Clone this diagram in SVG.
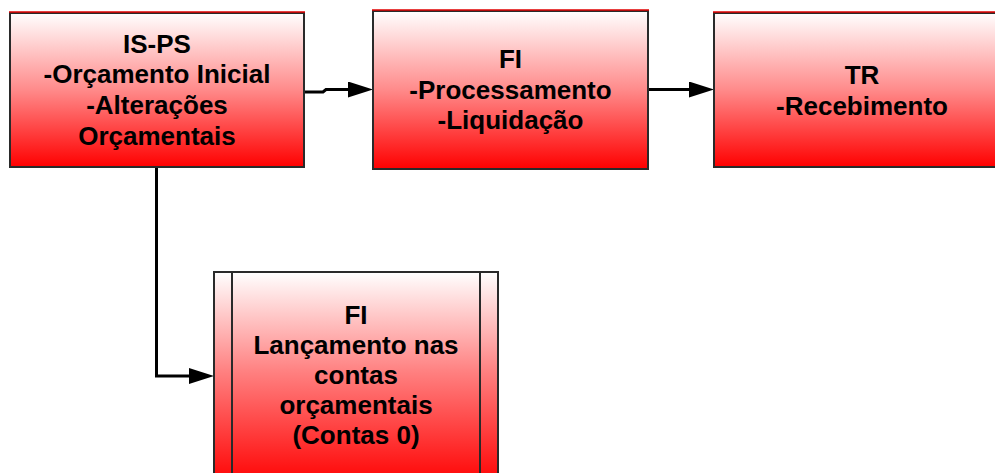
<svg xmlns="http://www.w3.org/2000/svg" width="995" height="473" viewBox="0 0 995 473">
  <defs>
    <linearGradient id="g" x1="0" y1="0" x2="0" y2="1">
      <stop offset="0" stop-color="#ffffff"/>
      <stop offset="0.5" stop-color="#ff8a8a"/>
      <stop offset="1" stop-color="#ff0000"/>
    </linearGradient>
    <linearGradient id="g4" gradientUnits="userSpaceOnUse" x1="0" y1="272" x2="0" y2="472">
      <stop offset="0" stop-color="#ffffff"/>
      <stop offset="0.5" stop-color="#ff8080"/>
      <stop offset="1" stop-color="#ff1010"/>
    </linearGradient>
    <marker id="arr" viewBox="0 0 25 16" refX="5" refY="8" markerWidth="25" markerHeight="16" markerUnits="userSpaceOnUse" orient="auto">
      <path d="M0,0 L25,8 L0,16 z" fill="#000"/>
    </marker>
  </defs>
  <style>
    .box { stroke: #2a2a2a; stroke-width: 2; }
    .topline { stroke: #e00000; stroke-width: 1.5; }
    .t { font-family: "Liberation Sans", Arial, sans-serif; font-weight: bold; font-size: 26px; fill: #000; text-anchor: middle; }
    .conn { fill: none; stroke: #000; stroke-width: 3; }
  </style>
  <rect width="995" height="473" fill="#ffffff"/>

  <g id="connectors">
    <path class="conn" d="M304,92 H323 L326,89.5 H353" marker-end="url(#arr)"/>
    <path class="conn" d="M648,89.5 H694" marker-end="url(#arr)"/>
    <path class="conn" d="M156.5,167 V376 H194" marker-end="url(#arr)"/>
  </g>

  <g id="node-isps">
    <rect class="box" x="10" y="13" width="294" height="154" fill="url(#g)"/>
    <line class="topline" x1="9" y1="12" x2="305" y2="12"/>
    <text class="t" x="157" y="53">IS-PS</text>
    <text class="t" x="157" y="83">-Orçamento Inicial</text>
    <text class="t" x="157" y="114">-Alterações</text>
    <text class="t" x="157" y="145">Orçamentais</text>
  </g>

  <g id="node-fi1">
    <rect class="box" x="373" y="11" width="275" height="158" fill="url(#g)"/>
    <line class="topline" x1="372" y1="10" x2="649" y2="10"/>
    <text class="t" x="510.5" y="68">FI</text>
    <text class="t" x="510.5" y="99">-Processamento</text>
    <text class="t" x="510.5" y="129">-Liquidação</text>
  </g>

  <g id="node-tr">
    <rect class="box" x="714" y="13" width="300" height="154" fill="url(#g)"/>
    <line class="topline" x1="713" y1="12" x2="995" y2="12"/>
    <text class="t" x="862" y="84">TR</text>
    <text class="t" x="862" y="115">-Recebimento</text>
  </g>

  <g id="node-fi2">
    <rect class="box" x="214" y="272" width="284" height="210" fill="url(#g4)"/>
    <line class="box" x1="232" y1="272" x2="232" y2="482"/>
    <line class="box" x1="480" y1="272" x2="480" y2="482"/>
    <text class="t" x="356" y="324">FI</text>
    <text class="t" x="356" y="354">Lançamento nas</text>
    <text class="t" x="356" y="384">contas</text>
    <text class="t" x="356" y="414">orçamentais</text>
    <text class="t" x="356" y="444">(Contas 0)</text>
  </g>
</svg>
